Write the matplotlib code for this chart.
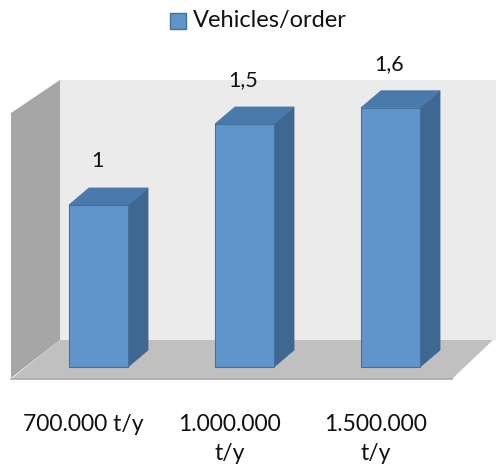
import matplotlib
matplotlib.use("Agg")
import matplotlib.pyplot as plt
from matplotlib.patches import Polygon, Rectangle

categories = ["700.000 t/y", "1.000.000\nt/y", "1.500.000\nt/y"]
values = [1.0, 1.5, 1.6]
value_labels = ["1", "1,5", "1,6"]
series_name = "Vehicles/order"

W, H = 496, 470
fig = plt.figure(figsize=(W / 100, H / 100), dpi=100)
ax = fig.add_axes([0, 0, 1, 1])
ax.set_axis_off()

# axis scale: pixels per unit
px_x = 146.0
px_y = 162.0
x0_px = 98.5      # centre of first category (px from left)
base_px = 367.0   # baseline (px from top)
ax.set_xlim(-x0_px / px_x, (W - x0_px) / px_x)
ax.set_ylim(-(H - base_px) / px_y, base_px / px_y)


def P(xp, yp):
    """pixel (from top-left) -> data coords"""
    return ((xp - x0_px) / px_x, (base_px - yp) / px_y)


# walls
left_wall = Polygon([P(11, 113), P(60, 80), P(60, 340), P(11, 378)],
                    closed=True, fc="#a6a6a6", ec="none", zorder=1)
back_wall = Polygon([P(60, 80), P(496, 80), P(496, 340), P(60, 340)],
                    closed=True, fc="#ebebeb", ec="none", zorder=1)
floor = Polygon([P(60, 340), P(493, 340), P(452, 379), P(11, 379)],
                closed=True, fc="#c0c0c0", ec="none", zorder=2)
ax.add_patch(back_wall)
ax.add_patch(left_wall)
ax.add_patch(floor)
ax.plot(*zip(P(11, 378.5), P(452, 378.5)), color="#a9a9a9", lw=1.2, zorder=2)

# bars
bw = 59 / px_x
ddx = 20 / px_x
ddy = 17 / px_y
front_c = "#5f95cb"
side_c = "#3e6891"
top_c = "#4a79ab"
edge_c = "#41719c"
for i, v in enumerate(values):
    xl = i - bw / 2
    xr = i + bw / 2
    side = Polygon([(xr, 0), (xr + ddx, ddy), (xr + ddx, v + ddy), (xr, v)],
                   closed=True, fc=side_c, ec=side_c, lw=0.6, zorder=3)
    top = Polygon([(xl, v), (xl + ddx, v + ddy), (xr + ddx, v + ddy), (xr, v)],
                  closed=True, fc=top_c, ec=top_c, lw=0.6, zorder=3)
    front = Rectangle((xl, 0), bw, v, fc=front_c, ec=edge_c, lw=0.8, zorder=4)
    ax.add_patch(side)
    ax.add_patch(top)
    ax.add_patch(front)
    ax.annotate(value_labels[i], (i, v), xytext=(-1, 44), textcoords="offset pixels",
                ha="center", va="center", fontsize=15.5, family="Lato", color="#111111",
                zorder=5)

# category labels
for i, c in enumerate(categories):
    ax.annotate(c, (i, 0), xytext=(-15, -(414 - base_px)), textcoords="offset pixels",
                ha="center", va="top", fontsize=16.5, family="Lato",
                color="#111111", linespacing=1.45)

# legend
fig.patches.append(Rectangle((170 / W, 1 - 29 / H), 16 / W, 16 / H,
                             transform=fig.transFigure, fc=front_c, ec=edge_c, lw=1))
fig.text(193 / W, 1 - 20 / H, series_name, ha="left", va="center", fontsize=17,
         family="Lato", color="#111111")

fig.savefig("out.png", dpi=100)
